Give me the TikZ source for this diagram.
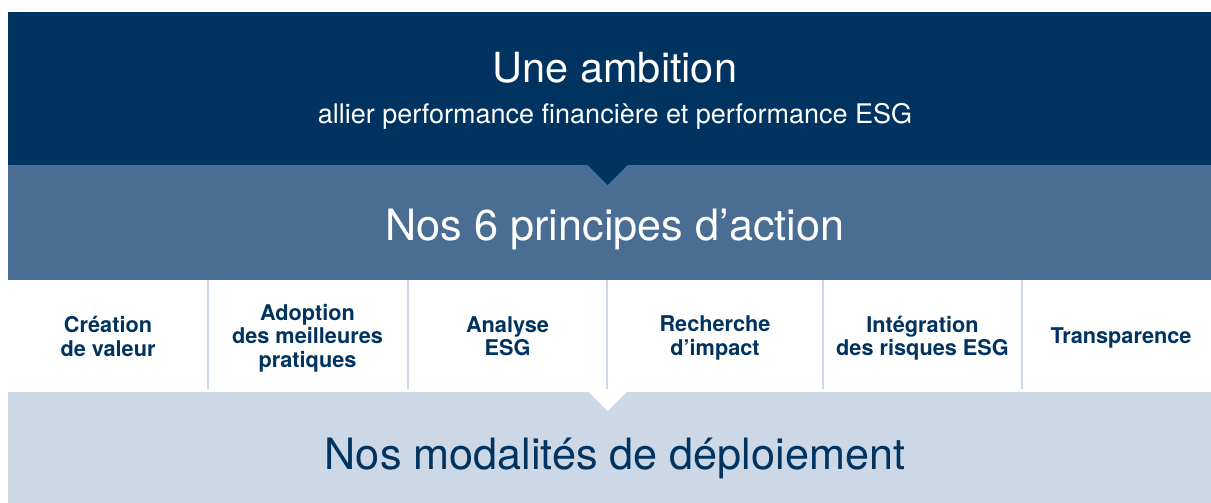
\documentclass[tikz,border=0pt]{standalone}
\usepackage{fontspec}
\setmainfont{TeX Gyre Heros}
\definecolor{navy}{HTML}{00335F}
\definecolor{midblue}{HTML}{4A6D94}
\definecolor{lightblue}{HTML}{CCD8E6}
\definecolor{sepcol}{HTML}{CDD8E5}
\begin{document}
\begin{tikzpicture}[x=1pt,y=-1pt,
  band/.style={draw=none,inner sep=0pt,anchor=north west,minimum width=1203pt},
  bigtitle/.style={inner sep=0pt,anchor=base,font=\fontsize{43.2}{50}\selectfont},
  subtitle/.style={inner sep=0pt,anchor=base,text=white,font=\fontsize{27}{32}\selectfont},
  lab/.style={inner sep=0pt,anchor=base,align=center,text=navy,font=\fontsize{21.7}{23.4}\selectfont\bfseries},
  sepline/.style={draw=sepcol,line width=2pt}]
\useasboundingbox (0,0) rectangle (1211,503);
\fill[white] (0,0) rectangle (1211,503);
% bands
\node[band,fill=navy,minimum height=153.5pt] (top) at (8,12) {};
\node[band,fill=midblue,minimum height=115pt] (mid) at (8,165) {};
\node[band,fill=lightblue,minimum height=111pt] (bot) at (8,392) {};
% pointers
\fill[navy] (587,164.5) -- (628,164.5) -- (607.5,185) -- cycle;
\fill[white] (588,391.5) -- (627,391.5) -- (607.5,411) -- cycle;
% separators
\coordinate (s1a) at (207.5,280); \coordinate (s1b) at (207.5,389);
\coordinate (s2a) at (407.5,280); \coordinate (s2b) at (407.5,389);
\coordinate (s3a) at (607,280);   \coordinate (s3b) at (607,389);
\coordinate (s4a) at (822.5,280); \coordinate (s4b) at (822.5,389);
\coordinate (s5a) at (1022,280);  \coordinate (s5b) at (1022,389);
\draw[sepline] (s1a) -- (s1b);
\draw[sepline] (s2a) -- (s2b);
\draw[sepline] (s3a) -- (s3b);
\draw[sepline] (s4a) -- (s4b);
\draw[sepline] (s5a) -- (s5b);
% titles
\node[bigtitle,text=white,font=\fontsize{41.5}{50}\selectfont] (amb) at (615,82.7) {Une ambition};
\node[subtitle] (ambsub) at (615,123.3) {allier performance financière et performance ESG};
\node[bigtitle,text=white] (princ) at (615,240) {Nos 6 principes d’action};
\node[bigtitle,text=navy] (modal) at (615,469.5) {Nos modalités de déploiement};
% principles (base anchor = baseline of the last line)
\node[lab] (p1) at (108,356) {Création\\de valeur};
\node[lab] (p2) at (307.5,367) {Adoption\\des meilleures\\pratiques};
\node[lab] (p3) at (507.5,355.5) {Analyse\\ESG};
\node[lab] (p4) at (715,355.2) {Recherche\\d’impact};
\node[lab] (p5) at (922.5,355.5) {Intégration\\des risques ESG};
\node[lab] (p6) at (1121,343.3) {Transparence};
\end{tikzpicture}
\end{document}
